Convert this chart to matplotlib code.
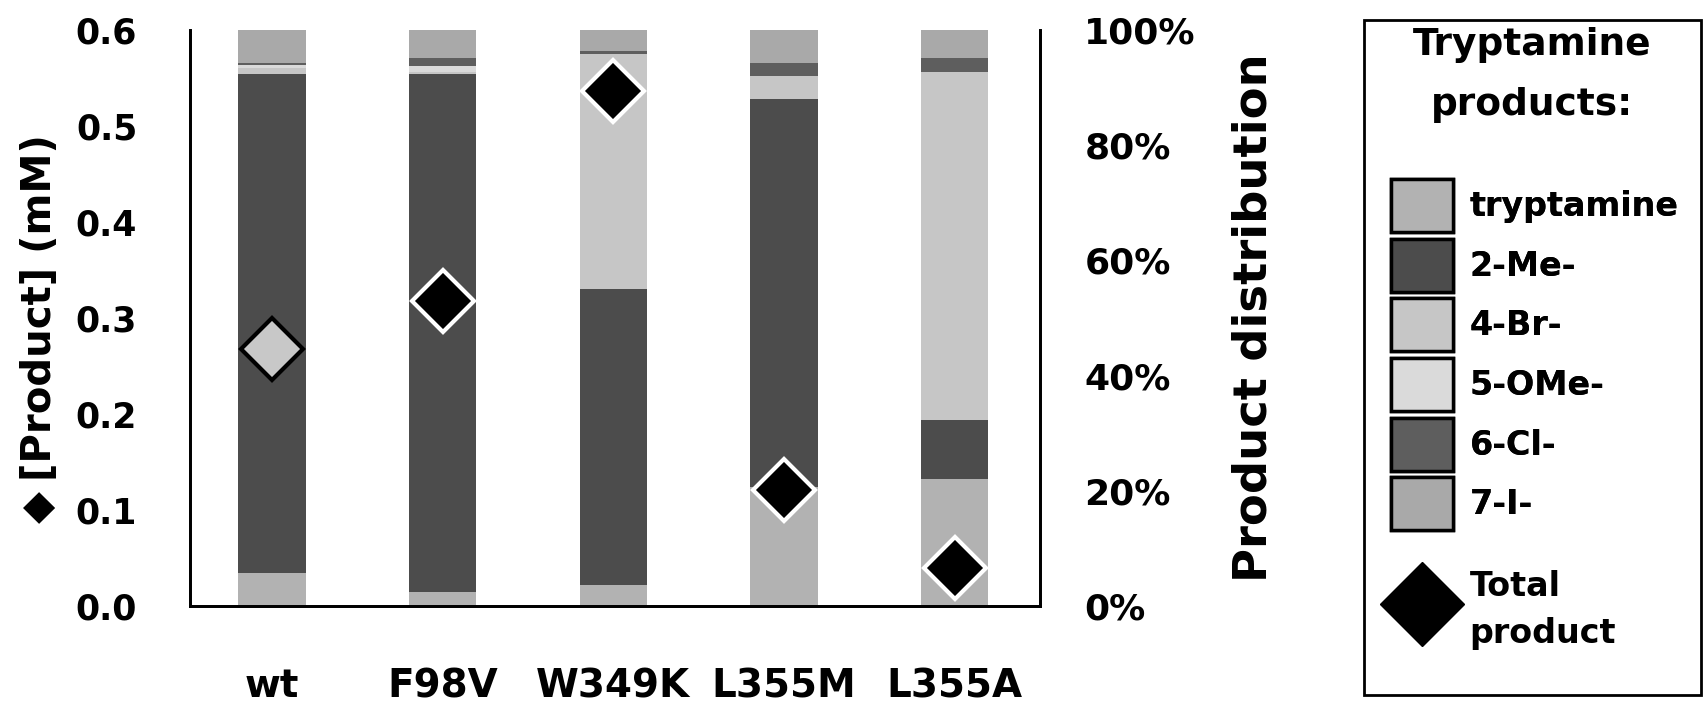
import matplotlib
matplotlib.use("Agg")
import matplotlib.pyplot as plt
import numpy as np
from matplotlib.patches import Patch, Rectangle
from matplotlib.lines import Line2D

plt.rcParams['font.family'] = ['DejaVu Sans']
plt.rcParams['font.weight'] = 'bold'

# ---- data ----
variants = ["wt", "F98V", "W349K", "L355M", "L355A"]
products = ["tryptamine", "2-Me-", "4-Br-", "5-OMe-", "6-Cl-", "7-I-"]
# product distribution (%), stacked from bottom in legend order
tryptamine = [5.8, 2.4, 3.6, 20.6, 22.0]
me2 = [86.6, 90.0, 51.4, 67.4, 10.3]
br4 = [1.0, 0.4, 40.9, 4.1, 60.5]
ome5 = [0.5, 1.0, 0.0, 0.0, 0.0]
cl6 = [0.3, 1.4, 0.5, 2.1, 2.4]
i7 = [5.8, 4.8, 3.6, 5.8, 4.8]
# total product (mM)
total_product = [0.268, 0.318, 0.536, 0.121, 0.040]

series = [tryptamine, me2, br4, ome5, cl6, i7]
colors = ["#b2b2b2", "#4c4c4c", "#c6c6c6", "#dadada", "#5e5e5e", "#a9a9a9"]

W, H = 1704, 705
fig = plt.figure(figsize=(W / 100, H / 100), dpi=100)
ax = fig.add_axes([0.1115, 0.1404, 0.4988, 0.8170])
ax2 = ax.twinx()

x = np.arange(len(variants))
bottom = np.zeros(len(variants))
for vals, c in zip(series, colors):
    vals = np.array(vals)
    ax2.bar(x, vals, bottom=bottom, width=0.395, color=c, edgecolor='none')
    bottom += vals

ax.set_zorder(ax2.get_zorder() + 1)
ax.patch.set_visible(False)

# total product diamonds: wt drawn light with black edge, others black with white edge
for i, v in enumerate(total_product):
    if i == 0:
        ax.plot(x[i], v, marker='D', ms=32, mfc='#c8c8c8', mec='black', mew=3, ls='none')
    else:
        ax.plot(x[i], v, marker='D', ms=32, mfc='black', mec='white', mew=3, ls='none')

ax.set_xlim(-0.48, 4.5)
ax.set_ylim(0, 0.6)
ax2.set_ylim(0, 100)
ax.set_yticks(np.arange(0, 0.61, 0.1))
ax.set_yticklabels([f"{t:.1f}" for t in np.arange(0, 0.61, 0.1)], fontsize=25, fontweight='bold')
ax2.set_yticks(np.arange(0, 101, 20))
ax2.set_yticklabels([f"{t}%" for t in range(0, 101, 20)], fontsize=26, fontweight='bold')
ax.set_xticks(x)
ax.set_xticklabels(variants, fontsize=28, fontweight='bold')

ax.tick_params(axis='y', length=0, pad=38)
ax2.tick_params(axis='y', length=0, pad=32)
ax.tick_params(axis='x', length=0, pad=44)

for a in (ax, ax2):
    a.spines['top'].set_visible(False)
    for s in ('left', 'right', 'bottom'):
        a.spines[s].set_linewidth(2)
        a.spines[s].set_color('black')

# left axis title: diamond symbol + text
fig.text(40 / W, 1 - 308 / H, "[Product] (mM)", rotation=90, ha='center', va='center',
         fontsize=29, fontweight='bold')
fig.text(40 / W, 1 - 507 / H, "◆", rotation=90, ha='center', va='center', fontsize=30)

ax2.set_ylabel("Product distribution", fontsize=33.5, fontweight='bold', rotation=90)
ax2.yaxis.set_label_coords(1.225, 0.5)

# ---- legend ----
fig.add_artist(Rectangle((1364 / W, 1 - 695 / H), (1701 - 1364) / W, (695 - 20) / H,
                         transform=fig.transFigure, facecolor='white', edgecolor='black',
                         linewidth=2, zorder=0))
fig.text(1532 / W, 1 - 75 / H, "Tryptamine\nproducts:", ha='center', va='center',
         fontsize=27, fontweight='bold', linespacing=1.85)

handles = [Patch(facecolor=c, edgecolor='black', linewidth=2.5) for c in colors]
leg = fig.legend(handles, products, loc='upper left', bbox_to_anchor=(1391 / W, 1 - 179 / H),
                 fontsize=24, frameon=False, handlelength=1.86, handleheight=2.07,
                 labelspacing=0.2, borderpad=0, handletextpad=0.5, borderaxespad=0)
for t in leg.get_texts():
    t.set_fontweight('bold')

tot_handle = Line2D([], [], marker='D', ms=43, mfc='black', mec='black', ls='none')
leg2 = fig.legend([tot_handle], ["Total\nproduct"], loc='center left',
                  bbox_to_anchor=(1391 / W, 1 - 610 / H),
                  fontsize=24, frameon=False, handlelength=1.86, handleheight=2.07,
                  borderpad=0, handletextpad=0.5, borderaxespad=0)
for t in leg2.get_texts():
    t.set_fontweight('bold')
    t.set_linespacing(1.5)
fig.add_artist(leg)

fig.savefig("out.png", dpi=100)
